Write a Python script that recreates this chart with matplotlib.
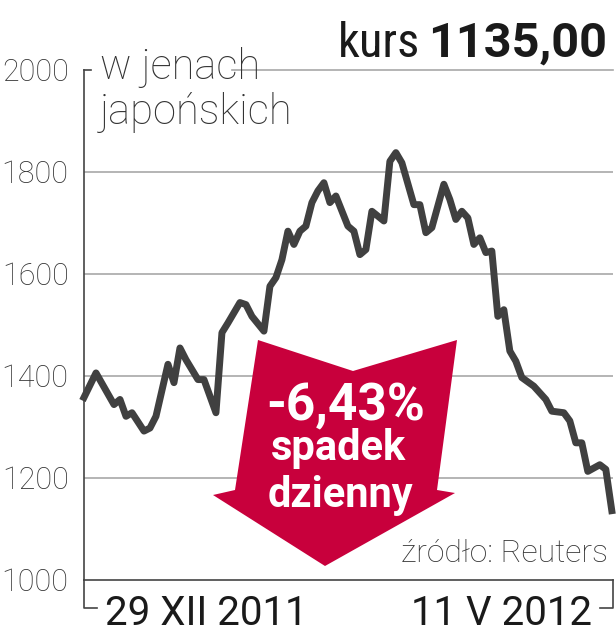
import matplotlib
matplotlib.use("Agg")
import matplotlib.pyplot as plt
import matplotlib.font_manager as fm
from matplotlib.patches import Polygon

# kurs akcji w jenach, kolejne sesje od 29 XII 2011 do 11 V 2012
sessions = [0, 2, 5, 6, 7, 8, 10, 11, 12, 14, 15, 16, 17, 19, 20, 22, 23, 24,
            26, 27, 28, 30, 31, 32, 33, 34, 35, 36, 37, 38, 39, 40, 41, 42,
            44, 45, 46, 47, 48, 50, 51, 52, 53, 55, 56, 57, 58, 60, 61, 62,
            63, 64, 65, 66, 67, 68, 69, 70, 71, 72, 73, 75, 77, 78, 80, 81,
            82, 83, 84, 86, 87, 88]
prices = [1357, 1405, 1343, 1353, 1320, 1327, 1291, 1297, 1320, 1422, 1386,
          1454, 1431, 1392, 1392, 1327, 1484, 1503, 1543, 1539, 1516, 1487,
          1575, 1592, 1627, 1683, 1657, 1683, 1693, 1739, 1762, 1778, 1739,
          1752, 1693, 1683, 1637, 1647, 1722, 1703, 1820, 1837, 1817, 1735,
          1735, 1680, 1690, 1775, 1745, 1706, 1722, 1709, 1657, 1670, 1641,
          1644, 1516, 1529, 1448, 1428, 1396, 1379, 1353, 1330, 1327, 1311,
          1268, 1268, 1212, 1225, 1216, 1135]
y_ticks = [1000, 1200, 1400, 1600, 1800, 2000]
date_labels = ["29 XII 2011", "11 V 2012"]

W, H = 616, 640


def fx(px):
    return px / W


def fy(py):
    return 1 - py / H


names = {f.name for f in fm.fontManager.ttflist}


def pick(*cands):
    return next((c for c in cands if c in names), "DejaVu Sans")


BASE = pick("Roboto", "Lato", "Open Sans")
NARROW = pick("Roboto Condensed", "Liberation Sans Narrow", "Roboto")

fig = plt.figure(figsize=(W / 100, H / 100), dpi=100)
ax = fig.add_axes([fx(84), fy(579.5), (613 - 84) / W, (579.5 - 69.5) / H])
ax.set_xlim(0, 88.2)
ax.set_ylim(1000, 2000)

grid_c = "#a8a8a8"
axis_c = "#444444"
for v in y_ticks[1:-1]:
    ax.axhline(v, color=grid_c, lw=1.2, zorder=1)
ax.axhline(2000, xmin=(232 - 84) / 529, color=grid_c, lw=1.2, zorder=1, clip_on=False)

for side in ["top", "right"]:
    ax.spines[side].set_visible(False)
for side in ["left", "bottom"]:
    ax.spines[side].set_color(axis_c)
    ax.spines[side].set_linewidth(1.2)

# small brackets at the corners
ax.plot([0, 7 / 529], [1, 1], transform=ax.transAxes, color=axis_c, lw=1.2, clip_on=False)
ax.plot([0, 0, 13 / 529], [0, -28 / 510, -28 / 510], transform=ax.transAxes,
        color=axis_c, lw=1.2, clip_on=False)
ax.plot([1, 1, 1 - 13 / 529], [0, -28 / 510, -28 / 510], transform=ax.transAxes,
        color=axis_c, lw=1.2, clip_on=False)

ax.set_xticks([])
ax.set_yticks(y_ticks)
ax.set_yticklabels([str(v) for v in y_ticks], fontfamily=BASE, fontweight="light",
                   fontsize=22, color="#333333")
ax.tick_params(axis="y", length=0, pad=11)

ax.plot(sessions, prices, color="#404040", lw=5, solid_joinstyle="round",
        zorder=4, clip_on=False)

# red arrow
arrow_px = [(258, 340), (353, 371), (457, 340), (437, 490), (455, 493),
            (325, 566), (213, 495), (235, 490)]
ax.add_patch(Polygon([(fx(x), fy(y)) for x, y in arrow_px], closed=True,
                     transform=fig.transFigure, facecolor="#c8003c",
                     edgecolor="none", zorder=3, clip_on=False))

fig.text(fx(346), fy(420), "-6,43%", color="white", fontfamily=BASE,
         fontweight="bold", fontsize=37, ha="center", va="baseline", zorder=5)
fig.text(fx(338), fy(460), "spadek", color="white", fontfamily=BASE,
         fontweight="bold", fontsize=30, ha="center", va="baseline", zorder=5)
fig.text(fx(340), fy(507), "dzienny", color="white", fontfamily=BASE,
         fontweight="bold", fontsize=30, ha="center", va="baseline", zorder=5)

# title and captions
fig.text(fx(607), fy(57), "1135,00", color="#1a1a1a", fontfamily=BASE,
         fontweight="bold", fontsize=35, ha="right", va="baseline")
fig.text(fx(420), fy(57), "kurs", color="#1a1a1a", fontfamily=NARROW,
         fontsize=35, ha="right", va="baseline")
fig.text(fx(100), fy(79), "w jenach", color="#333333", fontfamily=BASE,
         fontweight="light", fontsize=30, va="baseline")
fig.text(fx(100), fy(124), "japońskich", color="#333333", fontfamily=BASE,
         fontweight="light", fontsize=30, va="baseline")
fig.text(fx(608), fy(562), "źródło: Reuters", color="#333333", fontfamily=BASE,
         fontweight="light", fontsize=23, ha="right", va="baseline")

fig.text(fx(105), fy(625), date_labels[0], color="#1a1a1a", fontfamily=BASE,
         fontsize=29, va="baseline")
fig.text(fx(592), fy(625), date_labels[1], color="#1a1a1a", fontfamily=BASE,
         fontsize=29, ha="right", va="baseline")

fig.savefig("out.png", dpi=100)
